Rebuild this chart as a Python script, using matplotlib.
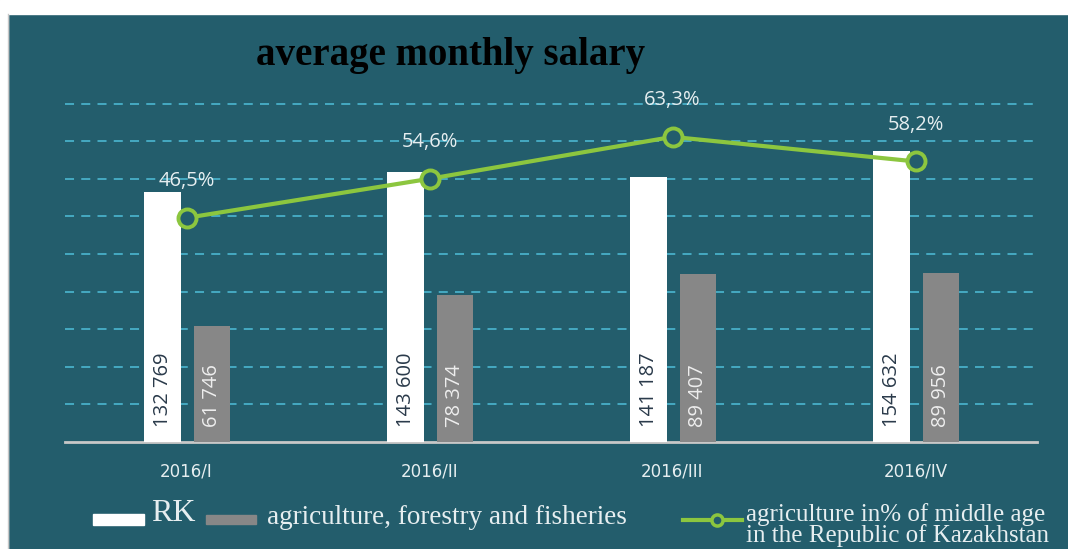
import matplotlib
matplotlib.use("Agg")
import matplotlib.pyplot as plt
from matplotlib.patches import Rectangle
from matplotlib.lines import Line2D

categories = ["2016/I", "2016/II", "2016/III", "2016/IV"]
rk_values = [132769, 143600, 141187, 154632]
agri_values = [61746, 78374, 89407, 89956]
share_pct = [46.5, 54.6, 63.3, 58.2]
rk_labels = ["132 769", "143 600", "141 187", "154 632"]
agri_labels = ["61 746", "78 374", "89 407", "89 956"]
pct_labels = ["46,5%", "54,6%", "63,3%", "58,2%"]

W, H = 1068, 549
BG = "#235d6c"
GREEN = "#8cc63f"
GRAY = "#878787"
GRID = "#48afc9"
LIGHT = "#e6eef0"

fig = plt.figure(figsize=(W / 100, H / 100), dpi=100)
fig.patch.set_facecolor(BG)

def px(x0, y0, x1, y1):
    return [x0 / W, 1 - y1 / H, (x1 - x0) / W, (y1 - y0) / H]

# overlay for decorations
over = fig.add_axes([0, 0, 1, 1], zorder=0)
over.set_xlim(0, W)
over.set_ylim(H, 0)
over.axis("off")
over.add_patch(Rectangle((0, 0), W, 14, color="white", zorder=1))
over.add_patch(Rectangle((0, 0), 8, H, color="white", zorder=1))
over.plot([8, 8], [14, H], color="#c8c8c8", lw=1, zorder=2)

ax = fig.add_axes(px(65, 66, 1037, 442), zorder=1)
ax.set_facecolor("none")
x = list(range(len(categories)))
bw = 0.152
ax.bar([i - 0.097 for i in x], rk_values, width=bw, color="white", zorder=3)
ax.bar([i + 0.105 for i in x], agri_values, width=bw, color=GRAY, zorder=3)
ax.set_xlim(-0.5, 3.5)
ax.set_ylim(0, 200000)
ax.set_yticks(range(20000, 200000, 20000))
ax.yaxis.grid(True, color=GRID, linestyle=(0, (5, 4)), linewidth=1.3, zorder=1)
ax.set_axisbelow(True)
ax.set_xticks(x)
ax.set_xticklabels(categories, color=LIGHT, fontsize=12,
                   family=["Liberation Sans Narrow", "DejaVu Sans"])
for s in ["top", "left", "right"]:
    ax.spines[s].set_visible(False)
ax.spines["bottom"].set_color("#c8c8c8")
ax.spines["bottom"].set_linewidth(2)

for i in x:
    ax.text(i - 0.097, 8000, rk_labels[i], rotation=90, ha="center", va="bottom",
            color="#2a3a4a", fontsize=14.5, family="Open Sans", zorder=5)
    ax.text(i + 0.105, 8000, agri_labels[i], rotation=90, ha="center", va="bottom",
            color="#eeeeee", fontsize=14.5, family="Open Sans", zorder=5)

ax2 = ax.twinx()
ax2.set_ylim(0, 78)
ax2.axis("off")
ax2.plot(x, share_pct, color=GREEN, lw=3, marker="o", markersize=13,
         markerfacecolor=BG, markeredgecolor=GREEN, markeredgewidth=2.8, zorder=6)
for i in x:
    ax2.annotate(pct_labels[i], (i, share_pct[i]), xytext=(0, 19),
                 textcoords="offset points", ha="center", va="bottom",
                 color=LIGHT, fontsize=14.5, family="Open Sans")

ax.tick_params(axis="y", left=False, right=False, labelleft=False, labelright=False)
ax.tick_params(axis="x", bottom=False, pad=11)

# title
over.text(451, 55, "average monthly salary", ha="center", va="center",
          fontsize=28, fontweight="bold", family="Liberation Serif", color="black", zorder=3)

# legend
over.add_patch(Rectangle((93, 514), 51, 11, color="white", zorder=3))
over.text(151, 521, "RK", ha="left", va="baseline", fontsize=23,
          family="Liberation Serif", color=LIGHT, zorder=3)
over.add_patch(Rectangle((206, 515), 50, 9, color=GRAY, zorder=3))
over.text(267, 524, "agriculture, forestry and fisheries", ha="left", va="baseline",
          fontsize=19.5, family="Liberation Serif", color=LIGHT, zorder=3)
over.add_line(Line2D([683, 742], [520, 520], color=GREEN, lw=3, zorder=3))
over.plot([717], [520], marker="o", markersize=8, markerfacecolor=BG,
          markeredgecolor=GREEN, markeredgewidth=2.5, zorder=4)
over.text(746, 521, "agriculture in% of middle age", ha="left", va="baseline",
          fontsize=18, family="Liberation Serif", color=LIGHT, zorder=3)
over.text(746, 542, "in the Republic of Kazakhstan", ha="left", va="baseline",
          fontsize=18, family="Liberation Serif", color=LIGHT, zorder=3)

fig.savefig("out.png", dpi=100, facecolor=BG)
